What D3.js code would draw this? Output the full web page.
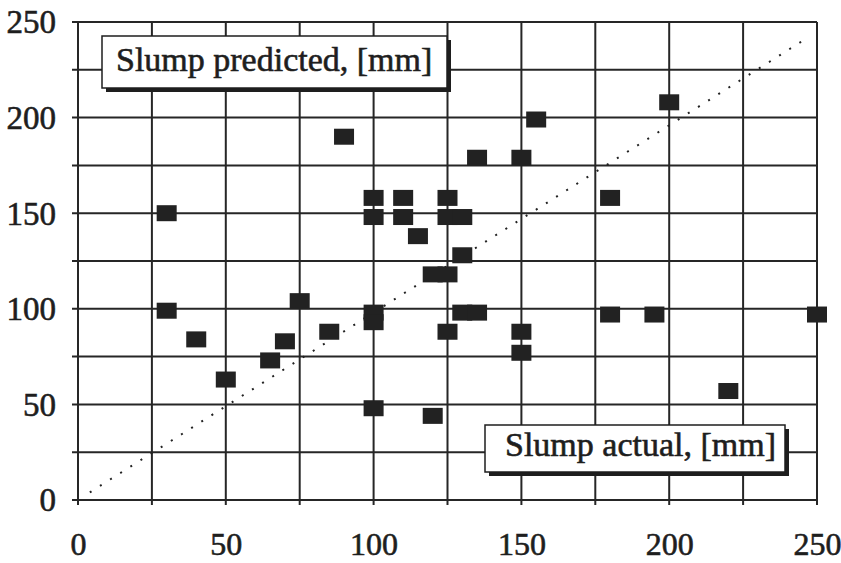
<!DOCTYPE html>
<html>
<head>
<meta charset="UTF-8">
<title>Slump predicted vs actual</title>
<script src="https://cdn.jsdelivr.net/npm/d3@7"></script>
<style>
  html, body { margin: 0; padding: 0; background: #fff; }
  text { font-family: "Liberation Serif", "Times New Roman", serif; fill: #1e1e1e; stroke: #1e1e1e; stroke-width: 0.6px; }
</style>
</head>
<body>
<div id="chart"></div>
<script>
// slump values, [mm]
const actual    = [30, 30, 40, 50, 65, 70, 75, 85, 90, 100, 100, 100, 100, 100, 110, 110, 115, 120, 125, 120,
                   125, 125, 130, 130, 130, 135, 125, 135, 150, 150, 150, 155, 180, 180, 195, 200, 220, 250]
const predicted = [150, 99, 84, 63, 73, 83, 104, 88, 190, 158, 148, 98, 93, 48, 158, 148, 138, 118, 118, 44,
                   158, 148, 148, 128, 98, 98, 88, 179, 179, 88, 77, 199, 158, 97, 97, 208, 57, 97]
const xTicks = [0, 50, 100, 150, 200, 250]
const yTicks = [0, 50, 100, 150, 200, 250]
const gridVals = d3.range(0, 251, 25)
const diagonal = [[4, 4], [247, 242]]   // dotted reference line, as drawn in the figure

const W = 841, H = 563
const svg = d3.select('#chart').append('svg').attr('width', W).attr('height', H)

const x = d3.scaleLinear().domain([0, 250]).range([78, 817])
const y = d3.scaleLinear().domain([0, 250]).range([500, 22])

// grid lines (with small stubs past the left / bottom edge)
const grid = svg.append('g').attr('stroke', '#262626').attr('stroke-width', 2)
grid.selectAll('line.h').data(gridVals).enter().append('line')
  .attr('x1', x(0) - 6).attr('x2', x(250))
  .attr('y1', d => y(d)).attr('y2', d => y(d))
grid.selectAll('line.v').data(gridVals).enter().append('line')
  .attr('x1', d => x(d)).attr('x2', d => x(d))
  .attr('y1', y(250)).attr('y2', y(0) + 5)

// tick labels through d3 axes
const yAxis = svg.append('g').attr('transform', `translate(${x(0) - 6},0)`)
  .call(d3.axisLeft(y).tickValues(yTicks).tickSize(0).tickPadding(16))
yAxis.select('.domain').remove()
yAxis.selectAll('text').style('font-size', '33px').attr('dy', '0.33em')

const xAxis = svg.append('g').attr('transform', `translate(0,${y(0) + 5})`)
  .call(d3.axisBottom(x).tickValues(xTicks).tickSize(0).tickPadding(27))
xAxis.select('.domain').remove()
xAxis.selectAll('text').style('font-size', '32px')

// dotted diagonal
const line = d3.line().x(d => x(d[0])).y(d => y(d[1]))
svg.append('path').datum(diagonal).attr('d', line)
  .attr('fill', 'none').attr('stroke', '#222').attr('stroke-width', 2)
  .attr('stroke-dasharray', '2,10')

// squares
const pts = actual.map((a, i) => [a, predicted[i]])
svg.append('g').selectAll('rect').data(pts).enter().append('rect')
  .attr('x', d => x(d[0]) - 10).attr('y', d => y(d[1]) - 8)
  .attr('width', 20).attr('height', 16)
  .attr('fill', '#222')

// label boxes with drop shadow
function labelBox(bx, by, bw, bh, txt, tx, ty) {
  const g = svg.append('g')
  g.append('rect').attr('x', bx + 4).attr('y', by + 4).attr('width', bw).attr('height', bh).attr('fill', '#1e1e1e')
  g.append('rect').attr('x', bx).attr('y', by).attr('width', bw).attr('height', bh)
    .attr('fill', '#fff').attr('stroke', '#1e1e1e').attr('stroke-width', 1.5)
  g.append('text').attr('x', tx).attr('y', ty).style('font-size', '34px').text(txt)
}
labelBox(102, 36, 345, 52, 'Slump predicted, [mm]', 116, 71)
labelBox(485, 425, 300, 47, 'Slump actual, [mm]', 505, 456)
</script>
</body>
</html>
